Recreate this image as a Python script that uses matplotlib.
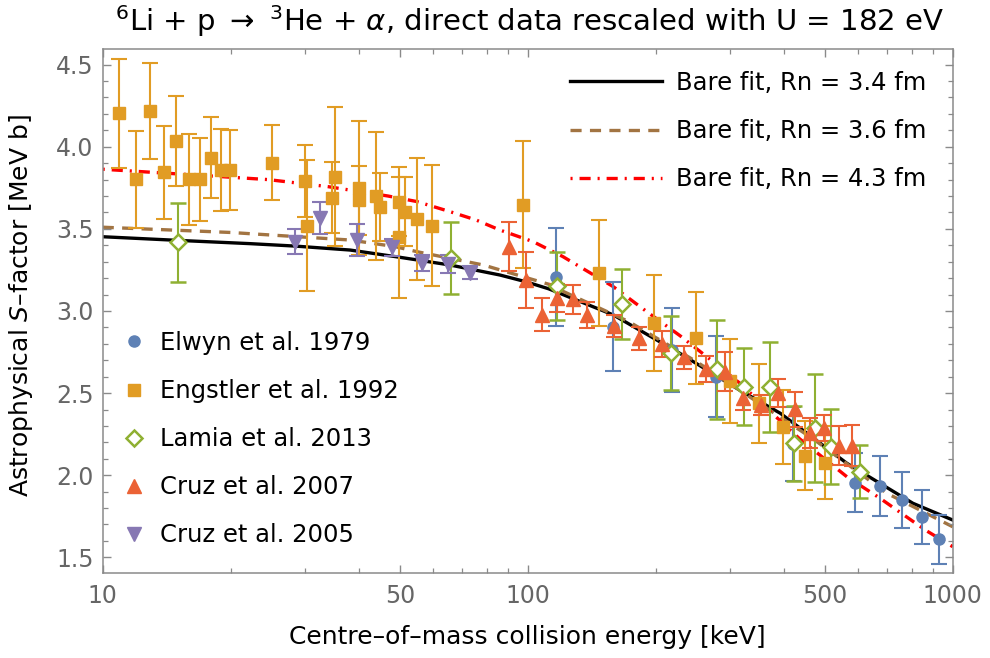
import matplotlib
matplotlib.use("Agg")
import matplotlib.pyplot as plt
from matplotlib.lines import Line2D
from matplotlib.ticker import FixedLocator, NullFormatter, MultipleLocator

plt.rcParams['font.family'] = ['DejaVu Sans']
plt.rcParams['mathtext.fontset'] = 'dejavusans'
plt.rcParams['lines.scale_dashes'] = False

# data: energy [keV], S-factor [MeV b], error
elwyn_E = [116.6, 159, 219, 277, 421, 589, 675, 761, 845, 929]
elwyn_S = [3.209, 2.904, 2.761, 2.600, 2.190, 1.954, 1.936, 1.849, 1.747, 1.610]
elwyn_err = [0.298, 0.270, 0.256, 0.246, 0.225, 0.180, 0.182, 0.172, 0.164, 0.150]

engstler_E = [10.94, 11.97, 12.9, 13.96, 14.88, 15.96, 16.9, 17.98, 18.98, 19.9,
              25.0, 29.9, 30.3, 35.2, 34.7, 40.0, 40.0, 44.0, 44.9, 49.8,
              51.4, 49.8, 55.0, 59.4, 97.7, 147.4, 198.2, 248.9, 299, 350,
              399.4, 449, 500.6]
engstler_S = [4.204, 3.802, 4.218, 3.845, 4.035, 3.802, 3.802, 3.934, 3.859, 3.859,
              3.903, 3.792, 3.519, 3.818, 3.690, 3.749, 3.673, 3.702, 3.635, 3.666,
              3.605, 3.449, 3.560, 3.519, 3.646, 3.233, 2.929, 2.837, 2.574, 2.438,
              2.292, 2.119, 2.076]
engstler_err = [0.331, 0.295, 0.294, 0.284, 0.273, 0.277, 0.253, 0.248, 0.249, 0.242,
                0.230, 0.220, 0.400, 0.423, 0.215, 0.408, 0.210, 0.390, 0.207, 0.209,
                0.210, 0.368, 0.371, 0.368, 0.386, 0.323, 0.292, 0.281, 0.254, 0.240,
                0.226, 0.211, 0.222]

lamia_E = [15.0, 66.0, 117, 166.4, 217, 279, 323, 371.5, 423, 474, 516, 605]
lamia_S = [3.418, 3.321, 3.152, 3.043, 2.746, 2.645, 2.539, 2.535, 2.194, 2.286, 2.174, 2.021]
lamia_err = [0.242, 0.218, 0.206, 0.213, 0.226, 0.300, 0.234, 0.273, 0.228, 0.330, 0.228, 0.160]

cruz07_E = [90.4, 98.9, 107.9, 117.4, 127.6, 137.7, 159.6, 182.8, 207.4, 233.6,
            262.8, 291.2, 321.6, 354, 388.9, 425.6, 461.6, 499, 540, 580.5]
cruz07_S = [3.392, 3.189, 2.976, 3.077, 3.071, 2.976, 2.909, 2.834, 2.799, 2.718,
            2.645, 2.630, 2.468, 2.428, 2.499, 2.401, 2.255, 2.289, 2.180, 2.180]
cruz07_err = [0.147, 0.169, 0.100, 0.085, 0.089, 0.078, 0.069, 0.069, 0.078, 0.070,
              0.079, 0.119, 0.068, 0.061, 0.085, 0.107, 0.091, 0.080, 0.117, 0.126]

cruz05_E = [28.35, 32.4, 39.6, 47.9, 56.3, 64.8, 73.1]
cruz05_S = [3.422, 3.565, 3.432, 3.388, 3.290, 3.286, 3.233]
cruz05_err = [0.076, 0.099, 0.097, 0.051, 0.048, 0.052, 0.039]

# bare fits
fit34_E = [10, 15, 22.2, 28.4, 38.2, 50, 65.6, 86, 99, 112, 159, 228, 315, 393, 564, 806, 1000]
fit34_S = [3.452, 3.430, 3.410, 3.395, 3.371, 3.327, 3.280, 3.219, 3.178, 3.135, 2.976,
           2.742, 2.519, 2.377, 2.072, 1.829, 1.727]
fit36_E = [10, 20, 38.2, 48.7, 54.9, 78.6, 113, 121, 173, 250, 470, 700, 1000]
fit36_S = [3.510, 3.478, 3.432, 3.392, 3.361, 3.280, 3.160, 3.120, 2.935, 2.690, 2.220,
           1.890, 1.686]
fit43_E = [10, 16.5, 24.5, 33.9, 46.9, 54.9, 65.6, 75.6, 86, 103, 121, 159, 190.6, 228.6,
           273, 315.6, 437, 564, 675, 862, 1000]
fit43_S = [3.863, 3.828, 3.800, 3.757, 3.700, 3.666, 3.605, 3.554, 3.493, 3.422, 3.331,
           3.148, 2.996, 2.848, 2.691, 2.560, 2.220, 1.990, 1.859, 1.666, 1.565]

c_blue = '#5e81b5'
c_orange = '#e19c24'
c_green = '#8fb032'
c_red = '#eb6235'
c_purple = '#8778b3'
c_brown = '#a27442'

fig = plt.figure(figsize=(9.9, 6.58), dpi=100)
ax = fig.add_axes([102.7 / 990, 1 - 573.3 / 658, 850 / 990, 524.6 / 658])

ax.plot(fit34_E, fit34_S, color='black', lw=2.4, zorder=1)
ax.plot(fit36_E, fit36_S, color=c_brown, lw=2.4, dashes=(8, 6), zorder=1)
ax.plot(fit43_E, fit43_S, color='red', lw=2.4, dashes=(1.5, 5, 8, 5), zorder=1)

eb = dict(ls='none', elinewidth=1.5, capsize=5.6, capthick=1.5, zorder=2)
ax.errorbar(elwyn_E, elwyn_S, yerr=elwyn_err, color=c_blue, marker='o', ms=8, **eb)
ax.errorbar(engstler_E, engstler_S, yerr=engstler_err, color=c_orange, marker='s', ms=8.6, **eb)
ax.errorbar(lamia_E, lamia_S, yerr=lamia_err, color=c_green, marker='D', ms=8,
            mfc='white', mew=1.8, **eb)
ax.errorbar(cruz07_E, cruz07_S, yerr=cruz07_err, color=c_red, marker='^', ms=10, **eb)
ax.errorbar(cruz05_E, cruz05_S, yerr=cruz05_err, color=c_purple, marker='v', ms=10, **eb)

ax.set_xscale('log')
ax.set_xlim(10, 1000)
ax.set_ylim(1.4026, 4.597)
ax.xaxis.set_major_locator(FixedLocator([10, 50, 100, 500, 1000]))
ax.xaxis.set_minor_locator(FixedLocator([20, 30, 40, 60, 70, 80, 90, 200, 300, 400,
                                         600, 700, 800, 900]))
ax.xaxis.set_minor_formatter(NullFormatter())
ax.set_xticklabels(['10', '50', '100', '500', '1000'])
ax.yaxis.set_major_locator(MultipleLocator(0.5))
ax.yaxis.set_minor_locator(MultipleLocator(0.1))
ax.yaxis.set_major_formatter(matplotlib.ticker.FormatStrFormatter('%.1f'))

for s in ax.spines.values():
    s.set_color('#8a8a8a')
    s.set_linewidth(1.1)
ax.tick_params(which='both', direction='in', top=True, right=True, color='#8a8a8a',
               labelcolor='#666666', labelsize=17)
ax.tick_params(which='major', length=6, width=1.0)
ax.tick_params(which='minor', length=3.8, width=0.9)
ax.tick_params(axis='x', pad=8)
ax.tick_params(axis='y', pad=6.5)

ax.set_xlabel('Centre\u2013of\u2013mass collision energy [keV]', fontsize=18)
ax.set_ylabel('Astrophysical $S$\u2013factor [MeV b]', fontsize=18)
ax.xaxis.set_label_coords(0.5, -0.098)
ax.yaxis.set_label_coords(-0.08, 0.51)

fig.text(0.535, 1 - 21 / 658,
         r'$^6$Li + p $\rightarrow$ $^3$He + $\alpha$, direct data rescaled with U = 182 eV',
         ha='center', va='center', fontsize=21)

fit_handles = [
    Line2D([], [], color='black', lw=2.4),
    Line2D([], [], color=c_brown, lw=2.4, dashes=(8, 6)),
    Line2D([], [], color='red', lw=2.4, dashes=(1.5, 5, 8, 5)),
]
leg1 = ax.legend(fit_handles, ['Bare fit, Rn = 3.4 fm', 'Bare fit, Rn = 3.6 fm',
                               'Bare fit, Rn = 4.3 fm'],
                 loc='upper left', bbox_to_anchor=(570 / 990, 1 - 71 / 658),
                 bbox_transform=fig.transFigure, frameon=False, fontsize=17.5,
                 handlelength=3.8, handletextpad=0.57, labelspacing=0.99,
                 borderpad=0, borderaxespad=0)
ax.add_artist(leg1)

data_handles = [
    Line2D([], [], ls='none', color=c_blue, marker='o', ms=8),
    Line2D([], [], ls='none', color=c_orange, marker='s', ms=8.6),
    Line2D([], [], ls='none', color=c_green, marker='D', ms=8, mfc='white', mew=1.8),
    Line2D([], [], ls='none', color=c_red, marker='^', ms=10),
    Line2D([], [], ls='none', color=c_purple, marker='v', ms=10),
]
ax.legend(data_handles, ['Elwyn et al. 1979', 'Engstler et al. 1992', 'Lamia et al. 2013',
                         'Cruz et al. 2007', 'Cruz et al. 2005'],
          loc='upper left', bbox_to_anchor=(122 / 990, 1 - 331 / 658),
          bbox_transform=fig.transFigure, frameon=False, fontsize=17.5,
          handlelength=1.0, handletextpad=0.56, labelspacing=0.99,
          borderpad=0, borderaxespad=0)

fig.savefig('out.png', dpi=100)
